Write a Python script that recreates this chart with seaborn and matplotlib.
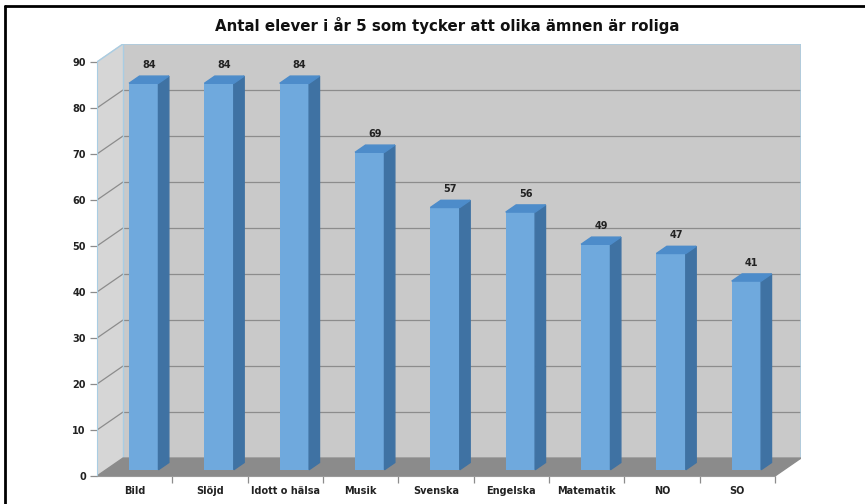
import numpy as np
import pandas as pd
import matplotlib
matplotlib.use('Agg')
import matplotlib.pyplot as plt
from matplotlib.lines import Line2D
import seaborn as sns

# data
categories = ['Bild', 'Slöjd', 'Idott o hälsa', 'Musik', 'Svenska',
              'Engelska', 'Matematik', 'NO', 'SO']
values = [84, 84, 84, 69, 57, 56, 49, 47, 41]
y_ticks = [0, 10, 20, 30, 40, 50, 60, 70, 80, 90]
title = 'Antal elever i år 5 som tycker att olika ämnen är roliga'

df = pd.DataFrame({'amne': categories, 'antal': values})

sns.set_style('white')
plt.rcParams['font.family'] = ['DejaVu Sans']

# fake 3d depth (data units)
dx, dy = 0.345, 3.9
front, back = 0.35, 0.75
bar_w = 0.39
grid_c = '#8c8c8c'
edge_c = '#a9cde3'

fig = plt.figure(figsize=(8.65, 5.04), dpi=100)
ax = fig.add_axes([97 / 865, 28 / 504, 704 / 865, 432 / 504])
ax.patch.set_alpha(0)

n = len(categories)
x0, x1 = -0.5, n - 0.5
ymax = y_ticks[-1]

# walls and floor
ax.fill([x0 + dx, x1 + dx, x1 + dx, x0 + dx], [dy, dy, ymax + dy, ymax + dy],
        color='#c9c9c9', zorder=0)
ax.fill([x0, x0 + dx, x0 + dx, x0], [0, dy, ymax + dy, ymax],
        color='#d6d6d6', zorder=0)
ax.fill([x0, x1, x1 + dx, x0 + dx], [0, 0, dy, dy], color='#8b8b8b', zorder=0.5)
for t in y_ticks[1:-1]:
    ax.plot([x0 + dx, x1 + dx], [t + dy, t + dy], color=grid_c, lw=0.9, zorder=0.2)
    ax.plot([x0, x0 + dx], [t, t + dy], color=grid_c, lw=0.9, zorder=0.2)
ax.plot([x0, x0 + dx, x1 + dx, x1 + dx], [ymax, ymax + dy, ymax + dy, dy],
        color=edge_c, lw=1, zorder=0.3)
ax.plot([x0 + dx, x0 + dx], [dy, ymax + dy], color=edge_c, lw=1, zorder=0.3)

# bars
sns.barplot(data=df, x='amne', y='antal', color='#6fa9dd', width=bar_w,
            saturation=1, ax=ax, zorder=2)

ddx, ddy = (back - front) * dx, (back - front) * dy
for p, v in zip(ax.containers[0], values):
    p.set_x(p.get_x() + front * dx)
    p.set_y(front * dy)
    p.set_edgecolor('none')
    xl = p.get_x()
    xr = xl + p.get_width()
    top = v + front * dy
    # side face
    ax.fill([xr, xr + ddx, xr + ddx, xr], [front * dy, back * dy, v + back * dy, top],
            color='#3f72a3', zorder=2)
    # top face
    ax.fill([xl, xr, xr + ddx, xl + ddx], [top, top, v + back * dy, v + back * dy],
            color='#4d8cca', zorder=2)
    ax.text((xl + xr + ddx) / 2, v + back * dy + 1.3, str(v), ha='center', va='bottom',
            fontsize=7, fontweight='bold', color='#222222')

ax.set_xlim(x0, x1 + dx)
ax.set_ylim(0, ymax + dy)
ax.set_xlabel('')
ax.set_ylabel('')
ax.set_yticks(y_ticks)
ax.set_xticks(range(n))
ax.set_xticklabels(categories)
ax.set_xticks(np.arange(n) + 0.5, minor=True)
ax.tick_params(axis='x', which='major', length=0, pad=7.5, labelsize=7, bottom=True)
ax.tick_params(axis='x', which='minor', length=5, direction='out', color=grid_c,
               width=0.9, bottom=True)
ax.tick_params(axis='y', length=5, color=grid_c, width=0.9, pad=3, labelsize=7, left=True)
for lab in ax.get_xticklabels() + ax.get_yticklabels():
    lab.set_fontweight('bold')
    lab.set_color('#222222')
ax.spines[['top', 'right']].set_visible(False)
ax.spines['left'].set_bounds(0, ymax)
ax.spines['left'].set_color(edge_c)
ax.spines['bottom'].set_bounds(x0, x1)
ax.spines['bottom'].set_color('#9a9a9a')

fig.text(447 / 865, 1 - 26 / 504, title, ha='center', va='center', fontsize=10.8,
         fontweight='bold', color='#111111')

# frame around the picture
fig.add_artist(Line2D([5 / 865, 5 / 865], [0, 1 - 6 / 504], transform=fig.transFigure,
                      color='black', lw=2))
fig.add_artist(Line2D([5 / 865, 1], [1 - 6 / 504, 1 - 6 / 504], transform=fig.transFigure,
                      color='black', lw=2))

fig.savefig('out.png', dpi=100, facecolor='white')
